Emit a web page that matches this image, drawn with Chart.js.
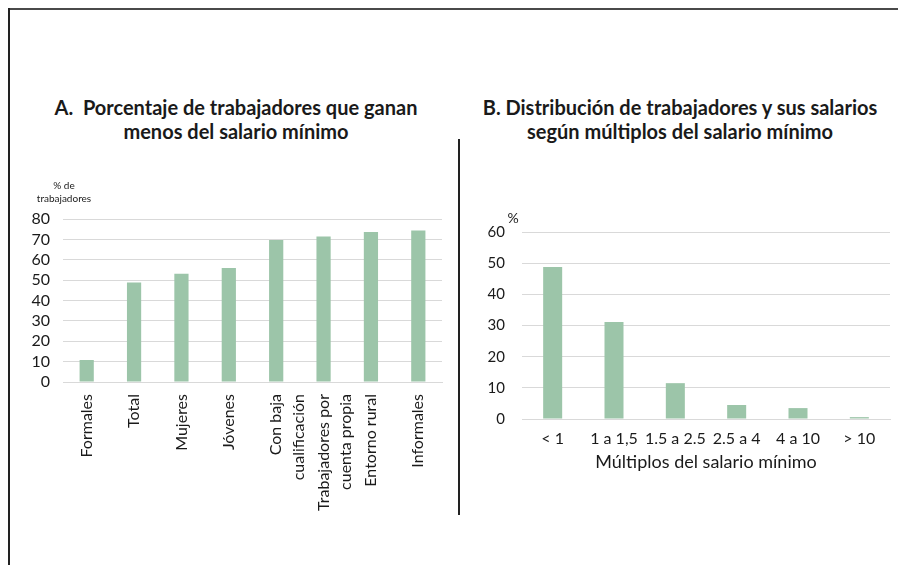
<!DOCTYPE html>
<html lang="es">
<head>
<meta charset="utf-8">
<script src="https://cdn.jsdelivr.net/npm/chart.js@4.4.1/dist/chart.umd.min.js"></script>
<style>
  html, body { margin: 0; padding: 0; background: #fff; }
  #page { position: relative; width: 898px; height: 565px; overflow: hidden; font-family: Lato, "Open Sans", sans-serif; color: #1a1a1a; }
  .box { position: absolute; }
  .rule { position: absolute; background: #333; }
  .unit { position: absolute; text-align: center; }
  .panel-title { position: absolute; text-align: center; font-weight: bold; font-size: 20px; line-height: 24px; white-space: nowrap; }
</style>
</head>
<body>
<div id="page">
  <div class="rule" style="left:8px; top:8px; width:890px; height:2px; background:#4a4a4a;"></div>
  <div class="rule" style="left:8px; top:8px; width:2px; height:557px; background:#222;"></div>
  <div class="rule" style="left:458px; top:139px; width:2px; height:376px; background:#222;"></div>

  <div class="panel-title" style="left:36px; top:95px; width:400px;">A.&nbsp; Porcentaje de trabajadores que ganan<br>menos del salario mínimo</div>
  <div class="panel-title" style="left:480px; top:95px; width:400px;">B. Distribución de trabajadores y sus salarios<br>según múltiplos del salario mínimo</div>

  <div class="box" style="left:10px; top:0; width:452px; height:565px;"><canvas id="chartA" width="452" height="565"></canvas></div>
  <div class="box" style="left:460px; top:0; width:438px; height:565px;"><canvas id="chartB" width="438" height="565"></canvas></div>

  <div class="unit" style="left:24px; top:179px; width:80px; font-size:10px; line-height:13px;">% de<br>trabajadores</div>
  <div class="unit" style="left:503px; top:210px; width:20px; font-size:14px; line-height:16px;">%</div>
</div>

<script>
// Panel A: share of workers earning less than the minimum wage
const groupLabels = [
  'Formales', 'Total', 'Mujeres', 'Jóvenes',
  ['Con baja', 'cualificación'], ['Trabajadores por', 'cuenta propia'],
  'Entorno rural', 'Informales'
];
const belowMinimumPct = [10.8, 48.8, 53.1, 55.9, 69.7, 71.4, 73.6, 74.3];
const panelATicks = [0, 80, 10]; // min, max, step

// Panel B: distribution of workers by multiples of the minimum wage
const multipleLabels = ['< 1', '1 a 1,5', '1.5 a 2.5', '2.5 a 4', '4 a 10', '> 10'];
const workersPct = [48.8, 31.1, 11.5, 4.5, 3.5, 0.6];
const panelBTicks = [0, 60, 10];

const FONT = 'Lato, "Open Sans", sans-serif';
const BAR = '#9cc5a9';
const GRID = '#d9d9d9';
const INK = '#1a1a1a';

Chart.defaults.font.family = FONT;
Chart.defaults.color = INK;
Chart.defaults.animation = false;

new Chart(document.getElementById('chartA'), {
  type: 'bar',
  data: {
    labels: groupLabels,
    datasets: [{
      data: belowMinimumPct,
      backgroundColor: BAR,
      borderWidth: 0,
      categoryPercentage: 1,
      barPercentage: 0.3
    }]
  },
  options: {
    responsive: false,
    layout: { padding: { left: 0, right: 20, top: 219, bottom: 0 } },
    plugins: {
      legend: { display: false },
      tooltip: { enabled: false },
      title: { display: false }
    },
    scales: {
      x: {
        grid: { display: false },
        border: { display: true, color: GRID, width: 1 },
        ticks: {
          color: INK,
          font: { size: 16, lineHeight: 1.4 },
          minRotation: 90, maxRotation: 90,
          padding: 4,
          autoSkip: false
        },
        afterFit(scale) { scale.height = 183; }
      },
      y: {
        min: panelATicks[0], max: panelATicks[1],
        grid: { color: GRID, lineWidth: 1, drawTicks: false },
        border: { display: false },
        ticks: { stepSize: panelATicks[2], color: INK, font: { size: 16 }, padding: 13, autoSkip: false },
        afterFit(scale) { scale.width = 53; }
      }
    }
  }
});

new Chart(document.getElementById('chartB'), {
  type: 'bar',
  data: {
    labels: multipleLabels,
    datasets: [{
      data: workersPct,
      backgroundColor: BAR,
      borderWidth: 0,
      categoryPercentage: 1,
      barPercentage: 0.31
    }]
  },
  options: {
    responsive: false,
    layout: { padding: { left: 0, right: 8, top: 232, bottom: 92 } },
    plugins: {
      legend: { display: false },
      tooltip: { enabled: false },
      title: { display: false }
    },
    scales: {
      x: {
        grid: { display: false },
        border: { display: true, color: GRID, width: 1 },
        ticks: { color: INK, font: { size: 16 }, padding: 2, maxRotation: 0, autoSkip: false },
        title: {
          display: true,
          text: 'Múltiplos del salario mínimo',
          color: INK,
          font: { size: 18 },
          padding: { top: 8, bottom: 0 }
        },
        afterFit(scale) { scale.height = 54; }
      },
      y: {
        min: panelBTicks[0], max: panelBTicks[1],
        grid: { color: GRID, lineWidth: 1, drawTicks: false },
        border: { display: false },
        ticks: { stepSize: panelBTicks[2], color: INK, font: { size: 15 }, padding: 17, autoSkip: false },
        afterFit(scale) { scale.width = 62; }
      }
    }
  }
});
</script>
</body>
</html>
